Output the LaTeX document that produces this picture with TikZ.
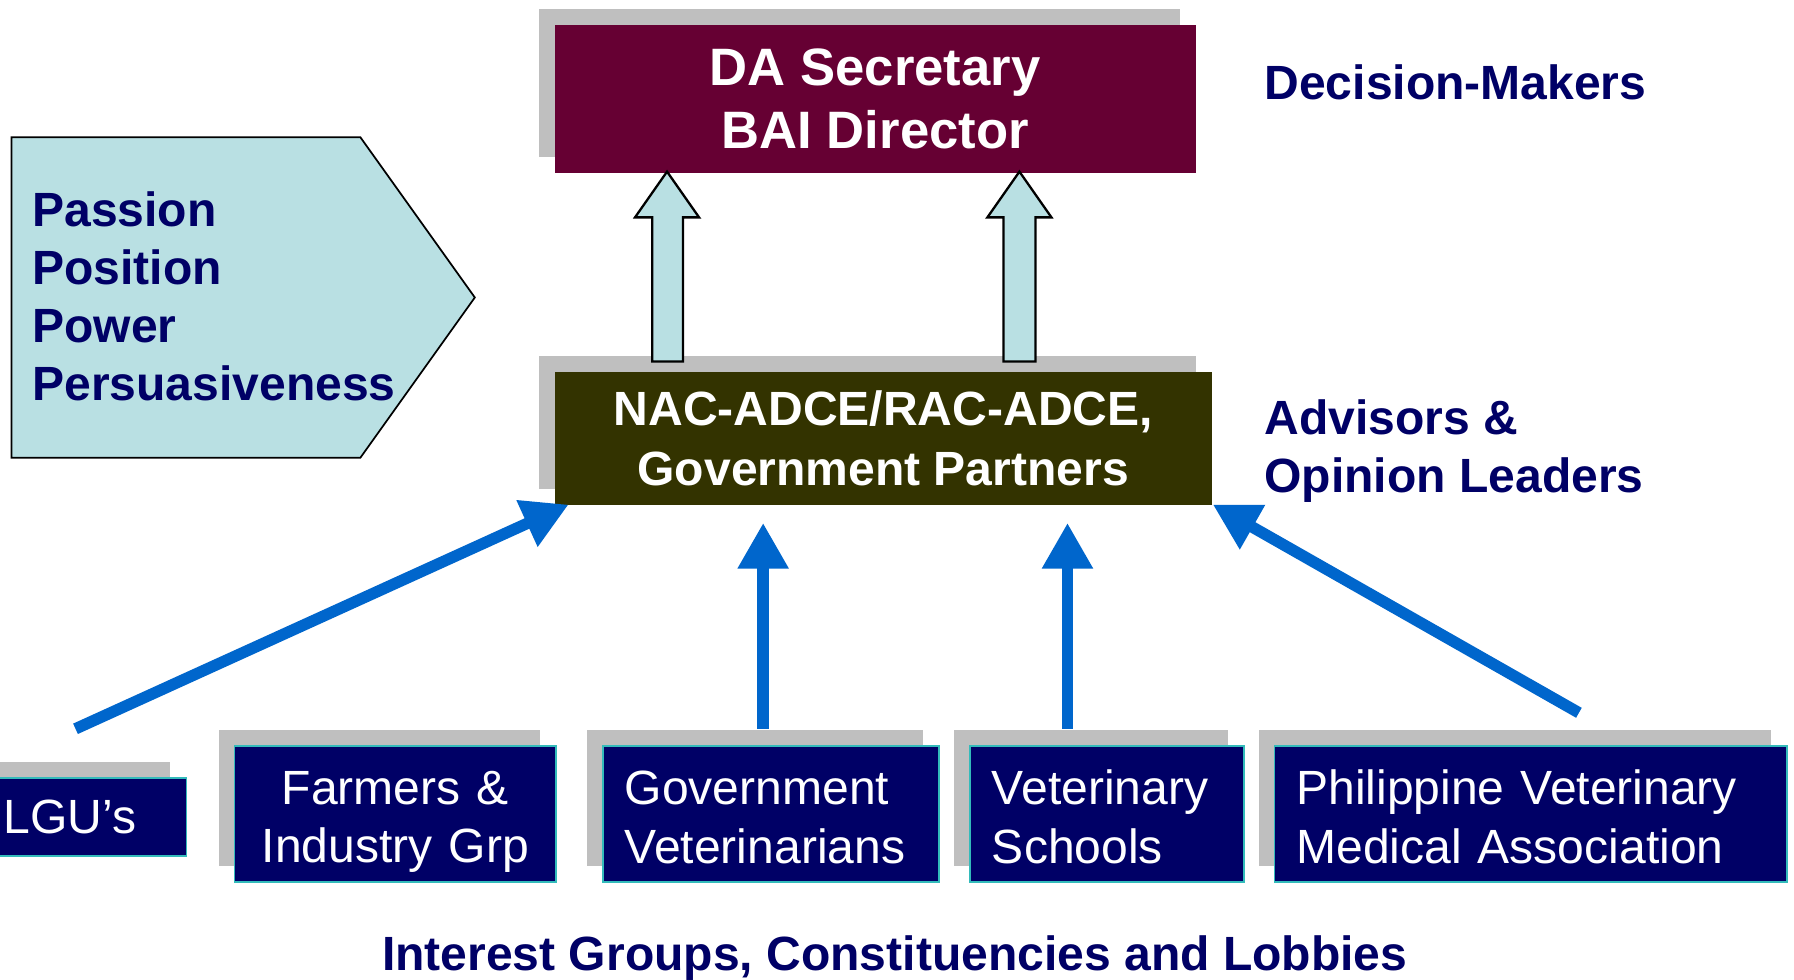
\documentclass[tikz,border=0pt]{standalone}
\usepackage{fontspec}
\setmainfont{Liberation Sans}
\usetikzlibrary{arrows.meta,shadows}
\definecolor{cMaroon}{HTML}{660033}
\definecolor{cOlive}{HTML}{333300}
\definecolor{cNavy}{HTML}{000066}
\definecolor{cLight}{HTML}{B9E0E3}
\definecolor{cShade}{HTML}{BFBFBF}
\definecolor{cBlue}{HTML}{0066CC}
\definecolor{cTeal}{HTML}{33BBBB}
\begin{document}
\begin{tikzpicture}[x=1pt,y=-1pt,
  shadowed/.style={general shadow={fill=cShade, shadow xshift=-14pt, shadow yshift=14pt}},
  headbox/.style={shadowed, fill=#1, text=white, align=center, inner sep=0pt},
  grpbox/.style={shadowed, fill=cNavy, draw=cTeal, line width=1.5pt, text=white,
     font=\fontsize{42}{51}\selectfont, align=left, inner xsep=19pt, inner ysep=0pt},
  label/.style={text=cNavy, font=\bfseries\fontsize{42}{50.5}\selectfont, align=left, inner sep=0pt},
  bluearrow/.style={draw=cBlue, line width=10pt, -{Triangle[length=40pt,width=42pt]}},
  blockarrow/.style={fill=cLight, draw=black, line width=2pt, line join=miter}
]
\useasboundingbox[fill=white] (0,0) rectangle (1568,856);

% left pentagon
\draw[fill=cLight, draw=black, line width=1.5pt] (10,120) -- (315,120) -- (415,260) -- (315,400) -- (10,400) -- cycle;
\node[label, anchor=west] (pp) at (28,259) {Passion\\Position\\Power\\Persuasiveness};

% top box
\node[headbox=cMaroon, minimum width=560pt, minimum height=129pt,
      font=\bfseries\fontsize{46}{55}\selectfont] (sec) at (765,86.5) {DA Secretary\\BAI Director};

% middle box
\node[headbox=cOlive, minimum width=574pt, minimum height=116pt,
      font=\bfseries\fontsize{42}{52}\selectfont] (nac) at (772,383) {NAC-ADCE/RAC-ADCE,\\Government Partners};

% block arrows
\draw[blockarrow] (583,150) -- (611,190) -- (597,190) -- (597,316) -- (570,316) -- (570,190) -- (555,190) -- cycle;
\draw[blockarrow] (891,150) -- (919,190) -- (905,190) -- (905,316) -- (877,316) -- (877,190) -- (863,190) -- cycle;

% right labels
\node[label, anchor=west] (dm) at (1105,72) {Decision-Makers};
\node[label, anchor=west] (ao) at (1105,394) {Advisors \&\\Opinion Leaders};

% bottom boxes
\node[grpbox, text width=141pt, minimum height=68pt] (lgu) at (73.5,714) {LGU’s};
\node[grpbox, text width=243pt, minimum height=119pt, align=center] (farm) at (345.5,711.5) {\rule{0pt}{43pt}Farmers \&\\Industry Grp};
\node[grpbox, text width=256pt, minimum height=119pt] (gov) at (674,711.5) {\rule{0pt}{35pt}Government\\Veterinarians};
\node[grpbox, text width=201pt, minimum height=119pt] (vet) at (967.5,711.5) {\rule{0pt}{35pt}Veterinary\\Schools};
\node[grpbox, text width=410pt, minimum height=119pt] (pvma) at (1338,711.5) {\rule{0pt}{35pt}Philippine Veterinary\\Medical Association};

% blue connectors
\coordinate (a1s) at (66,637);
\coordinate (a1e) at (497,441);
\coordinate (a2s) at (667,637);
\coordinate (a2e) at (667,457);
\coordinate (a3s) at (933,637);
\coordinate (a3e) at (933,457);
\coordinate (a4s) at (1380,623);
\coordinate (a4e) at (1060,441);
\draw[bluearrow] (a1s) -- (a1e);
\draw[bluearrow] (a2s) -- (a2e);
\draw[bluearrow] (a3s) -- (a3e);
\draw[bluearrow] (a4s) -- (a4e);

% bottom label
\node[label, anchor=center] (ig) at (782,837) {Interest Groups, Constituencies and Lobbies};
\end{tikzpicture}
\end{document}
